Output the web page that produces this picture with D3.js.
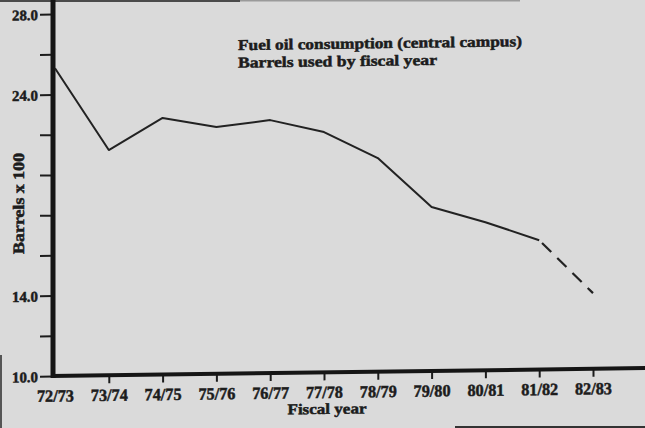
<!DOCTYPE html>
<html>
<head>
<meta charset="utf-8">
<script src="https://cdn.jsdelivr.net/npm/d3@7"></script>
<style>
  html, body { margin: 0; padding: 0; background: #dadada; }
  svg { display: block; }
  text { font-family: "Liberation Serif", "DejaVu Serif", serif; font-weight: 700; fill: #1c1c1c;
         stroke: #1c1c1c; stroke-width: 0.5px; }
</style>
</head>
<body>
<svg id="chart" width="645" height="428"></svg>
<script>
// Fiscal years on the horizontal axis
const fiscalYears = ["72/73", "73/74", "74/75", "75/76", "76/77", "77/78",
                     "78/79", "79/80", "80/81", "81/82", "82/83"];
// Barrels used (hundreds); the last year is a projection
const barrels = [25.3, 21.2, 22.76, 22.27, 22.58, 21.95, 20.62, 18.15, 17.36, 16.43, 13.76];
const projectedFrom = "81/82";
// Vertical axis ticks: every 2.0, only some labelled
const yTicks = [10, 12, 14, 16, 18, 20, 22, 24, 26, 28];
const yLabelled = [10, 14, 24, 28];
const titleLines = ["Fuel oil consumption (central campus)", "Barrels used by fiscal year"];

const svg = d3.select("#chart");
const W = 645, H = 428;
const originX = 55, originY = 376;
const FONT = "Liberation Serif";

svg.append("rect").attr("width", W).attr("height", H).attr("fill", "#dadada");
// worn edges of the sheet
svg.append("rect").attr("x", 0).attr("y", 0).attr("width", 240).attr("height", 2).attr("fill", "#4a4a4a");
svg.append("rect").attr("x", 240).attr("y", 0).attr("width", 280).attr("height", 1.5).attr("fill", "#9a9a9a");
svg.append("rect").attr("x", 455).attr("y", 426).attr("width", 190).attr("height", 2).attr("fill", "#333");
svg.append("rect").attr("x", 0).attr("y", 355).attr("width", 2).attr("height", 73).attr("fill", "#555");

// the sheet sits slightly askew
const g = svg.append("g")
  .attr("transform", `translate(${originX},${originY}) skewY(-0.77) translate(${-originX},${-originY})`);

const x = d3.scalePoint().domain(fiscalYears).range([55, 593]);
const y = d3.scaleLinear().domain([10, 28]).range([originY, 14]);

// Title
g.append("text").attr("x", 238).attr("y", 52.5).attr("font-size", 15)
  .attr("textLength", 284).attr("lengthAdjust", "spacingAndGlyphs").text(titleLines[0]);
g.append("text").attr("x", 238).attr("y", 70).attr("font-size", 15)
  .attr("textLength", 199).attr("lengthAdjust", "spacingAndGlyphs").text(titleLines[1]);

// Y axis
const yAxis = d3.axisLeft(y).tickValues(yTicks).tickSize(13)
  .tickFormat(d => yLabelled.includes(d) ? d3.format(".1f")(d) : "");
const ya = g.append("g").attr("transform", "translate(53,0)").call(yAxis);
ya.select(".domain").remove();
ya.selectAll(".tick line").attr("stroke", "#1c1c1c").attr("stroke-width", 2);
ya.selectAll(".tick text").attr("x", -15).attr("dy", "0.36em")
  .attr("font-size", 15).attr("font-family", FONT).attr("fill", "#1c1c1c")
  .attr("textLength", d => yLabelled.includes(d) ? 26 : null).attr("lengthAdjust", "spacingAndGlyphs");
g.append("line").attr("x1", 53).attr("x2", 53).attr("y1", -5).attr("y2", originY + 2)
  .attr("stroke", "#151515").attr("stroke-width", 5);

// X axis
const xAxis = d3.axisBottom(x).tickSize(8).tickSizeOuter(0);
const xa = g.append("g").attr("transform", `translate(0,${originY})`).call(xAxis);
xa.select(".domain").remove();
xa.selectAll(".tick line").attr("stroke", "#1c1c1c").attr("stroke-width", 2)
  .attr("display", d => d === fiscalYears[0] ? "none" : null);
xa.selectAll(".tick text").attr("y", 13.5).attr("dy", "0.71em")
  .attr("font-size", 17).attr("font-family", FONT).attr("fill", "#1c1c1c")
  .attr("textLength", 37).attr("lengthAdjust", "spacingAndGlyphs");
g.append("line").attr("x1", 51).attr("x2", 660).attr("y1", originY).attr("y2", originY)
  .attr("stroke", "#151515").attr("stroke-width", 4);

// Axis titles
g.append("text").attr("x", 327).attr("y", 417.5).attr("text-anchor", "middle")
  .attr("font-size", 15).attr("textLength", 79).attr("lengthAdjust", "spacingAndGlyphs").text("Fiscal year");
g.append("text").attr("transform", "translate(24,203) rotate(-90)").attr("text-anchor", "middle")
  .attr("font-size", 16).attr("textLength", 101).attr("lengthAdjust", "spacingAndGlyphs").text("Barrels x 100");

// Consumption line: solid for actual years, dashed for the projection
const pts = fiscalYears.map((f, i) => ({ f, v: barrels[i] }));
const cut = fiscalYears.indexOf(projectedFrom);
const line = d3.line().x(d => x(d.f)).y(d => y(d.v));
g.append("path").datum(pts.slice(0, cut + 1)).attr("d", line)
  .attr("fill", "none").attr("stroke", "#222").attr("stroke-width", 2).attr("stroke-linejoin", "round");
g.append("path").datum(pts.slice(cut)).attr("d", line)
  .attr("fill", "none").attr("stroke", "#222").attr("stroke-width", 2.2).attr("stroke-dasharray", "13,8.5")
  .attr("stroke-dashoffset", 17.5);
</script>
</body>
</html>
